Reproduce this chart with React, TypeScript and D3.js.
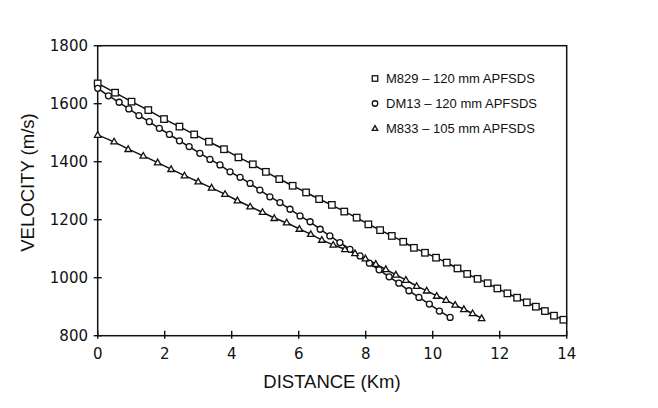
import React from 'react';
import * as d3 from 'd3';

// M829 - 120 mm APFSDS (squares): [distance km, velocity m/s]
const m829: [number, number][] = [
  [0, 1670], [0.52, 1638], [1.01, 1607], [1.51, 1578], [1.98, 1547], [2.44, 1521],
  [2.88, 1494], [3.32, 1469], [3.77, 1443], [4.2, 1415], [4.63, 1391], [5.02, 1365],
  [5.42, 1340], [5.82, 1317], [6.22, 1294], [6.61, 1271], [6.99, 1251], [7.36, 1228],
  [7.73, 1207], [8.08, 1184], [8.43, 1164], [8.78, 1144], [9.12, 1124], [9.44, 1103],
  [9.77, 1086], [10.1, 1069], [10.42, 1052], [10.74, 1032], [11.03, 1013], [11.34, 996],
  [11.64, 981], [11.93, 963], [12.23, 946], [12.52, 931], [12.81, 915], [13.08, 900],
  [13.35, 885], [13.62, 869], [13.9, 855],
];

// DM13 - 120 mm APFSDS (circles)
const dm13: [number, number][] = [
  [0, 1653], [0.32, 1627], [0.64, 1605], [0.93, 1582], [1.23, 1559], [1.54, 1538],
  [1.84, 1515], [2.14, 1494], [2.44, 1472], [2.73, 1452], [3.05, 1429], [3.35, 1408],
  [3.65, 1389], [3.95, 1365], [4.25, 1346], [4.55, 1325], [4.84, 1302], [5.14, 1279],
  [5.44, 1259], [5.74, 1236], [6.04, 1213], [6.34, 1193], [6.64, 1167], [6.93, 1144],
  [7.23, 1121], [7.53, 1098], [7.83, 1075], [8.11, 1050], [8.4, 1027], [8.7, 1003],
  [8.99, 981], [9.29, 955], [9.59, 932], [9.9, 909], [10.2, 885], [10.52, 863],
];

// M833 - 105 mm APFSDS (triangles)
const m833: [number, number][] = [
  [0, 1492], [0.49, 1469], [0.91, 1443], [1.36, 1420], [1.79, 1397], [2.19, 1374],
  [2.59, 1352], [3.0, 1331], [3.4, 1310], [3.8, 1288], [4.17, 1266], [4.55, 1245],
  [4.92, 1226], [5.27, 1205], [5.64, 1190], [6.02, 1168], [6.36, 1150], [6.69, 1130],
  [7.03, 1113], [7.38, 1098], [7.68, 1084], [7.99, 1066], [8.3, 1047], [8.6, 1029],
  [8.9, 1010], [9.2, 992], [9.52, 971], [9.82, 955], [10.12, 937], [10.4, 923],
  [10.67, 906], [10.93, 891], [11.19, 877], [11.46, 860],
];

const xTicks = [0, 2, 4, 6, 8, 10, 12, 14];
const yTicks = [800, 1000, 1200, 1400, 1600, 1800];
const legendLabels = [
  'M829 \u2013 120 mm APFSDS',
  'DM13 \u2013 120 mm APFSDS',
  'M833 \u2013 105 mm APFSDS',
];

const INK = '#111';

const Marker = ({ kind, cx, cy, s }: { kind: string; cx: number; cy: number; s: number }) => {
  if (kind === 'square')
    return <rect x={cx - s / 2} y={cy - s / 2} width={s} height={s} fill="#fff" stroke={INK} strokeWidth={1.3} />;
  if (kind === 'circle')
    return <circle cx={cx} cy={cy} r={s / 2} fill="#fff" stroke={INK} strokeWidth={1.3} />;
  const h = s * 0.87;
  return (
    <path
      d={`M${cx},${cy - h * 0.6}L${cx + s / 2},${cy + h * 0.4}L${cx - s / 2},${cy + h * 0.4}Z`}
      fill="#fff"
      stroke={INK}
      strokeWidth={1.3}
    />
  );
};

export default function App() {
  const width = 658;
  const height = 408;
  const x = d3.scaleLinear().domain([0, 14]).range([97.7, 566.7]);
  const y = d3.scaleLinear().domain([800, 1800]).range([335.7, 45.7]);

  const line = d3
    .line<[number, number]>()
    .x(d => x(d[0]))
    .y(d => y(d[1]))
    .curve(d3.curveBasis);

  const series = [
    { data: m829, kind: 'square', size: 6.5 },
    { data: dm13, kind: 'circle', size: 6 },
    { data: m833, kind: 'triangle', size: 6.5 },
  ];

  const [x0, x1] = x.range();
  const [yb, yt] = y.range();

  return (
    <svg
      width={width}
      height={height}
      style={{ position: 'absolute', left: 0, top: 0, background: '#fff' }}
    >
      {/* frame */}
      <rect x={x0} y={yt} width={x1 - x0} height={yb - yt} fill="none" stroke={INK} strokeWidth={1.5} />

      {/* y axis ticks */}
      {yTicks.map(t => (
        <g key={t}>
          <line x1={x0 - 4} x2={x0 + 4} y1={y(t)} y2={y(t)} stroke={INK} strokeWidth={1.4} />
          <text
            x={88}
            y={y(t) + 5.5}
            textAnchor="end"
            fontFamily="DejaVu Sans"
            fontSize={15}
            fill={INK}
          >
            {t}
          </text>
        </g>
      ))}

      {/* x axis ticks */}
      {xTicks.map(t => (
        <g key={t}>
          <line x1={x(t)} x2={x(t)} y1={yb - 5} y2={yb + 3} stroke={INK} strokeWidth={1.4} />
          <text
            x={x(t)}
            y={358.5}
            textAnchor="middle"
            fontFamily="DejaVu Sans"
            fontSize={15}
            fill={INK}
          >
            {t}
          </text>
        </g>
      ))}

      {/* axis titles */}
      <text
        x={332}
        y={388}
        textAnchor="middle"
        fontFamily="Liberation Sans"
        fontSize={18.5}
        fill={INK}
      >
        DISTANCE (Km)
      </text>
      <text
        transform="translate(33.5,182.5) rotate(-90)"
        textAnchor="middle"
        fontFamily="Liberation Sans"
        fontSize={18.5}
        fill={INK}
      >
        VELOCITY (m/s)
      </text>

      {/* fitted curves */}
      {series.map((s, i) => (
        <path key={i} d={line(s.data) || ''} fill="none" stroke={INK} strokeWidth={1.5} />
      ))}

      {/* data markers */}
      {series.map((s, i) => (
        <g key={i}>
          {s.data.map((d, j) => (
            <Marker key={j} kind={s.kind} cx={x(d[0])} cy={y(d[1])} s={s.size} />
          ))}
        </g>
      ))}

      {/* legend */}
      {series.map((s, i) => (
        <g key={i}>
          <Marker kind={s.kind} cx={375} cy={78.5 + i * 25} s={5.5} />
          <text
            x={386}
            y={78.5 + i * 25 + 4.7}
            fontFamily="Liberation Sans"
            fontSize={13}
            fill={INK}
          >
            {legendLabels[i]}
          </text>
        </g>
      ))}
    </svg>
  );
}
